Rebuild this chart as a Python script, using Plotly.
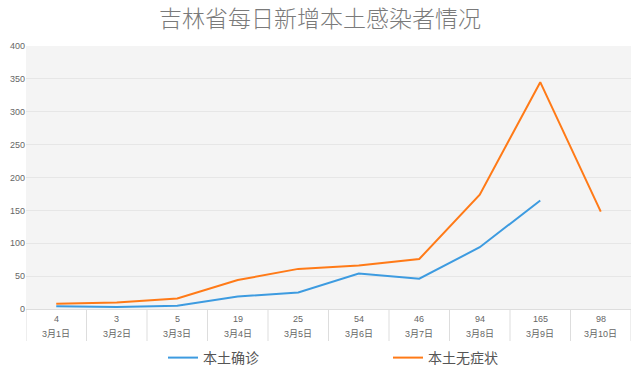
import plotly.graph_objects as go

dates = ["3月1日", "3月2日", "3月3日", "3月4日", "3月5日", "3月6日", "3月7日", "3月8日", "3月9日", "3月10日"]
table_values = [4, 3, 5, 19, 25, 54, 46, 94, 165, 98]
confirmed = [4, 3, 5, 19, 25, 54, 46, 94, 165, None]
asymptomatic = [8, 10, 16, 44, 61, 66, 76, 174, 345, 148]

FONT = "Liberation Sans, Noto Sans CJK SC, sans-serif"

fig = go.Figure()
fig.add_trace(go.Scatter(x=dates, y=confirmed, mode="lines", name="本土确诊",
                         line=dict(color="#3d9be0", width=2)))
fig.add_trace(go.Scatter(x=dates, y=asymptomatic, mode="lines", name="本土无症状",
                         line=dict(color="#ff7a17", width=2)))

plot_h = 372 - 46 - 63
plot_w = 640 - 26 - 9
shapes = []
for i in range(len(dates) + 1):
    shapes.append(dict(type="line", xref="x", yref="paper", x0=i - 0.5, x1=i - 0.5,
                       y0=0, y1=-32 / plot_h, line=dict(color="#dddddd", width=1)))
annotations = []
for i, (d, v) in enumerate(zip(dates, table_values)):
    annotations.append(dict(x=d, xref="x", yref="paper", y=-10 / plot_h, yanchor="middle",
                            text=str(v), showarrow=False,
                            font=dict(size=9, color="#666666", family=FONT)))
    annotations.append(dict(x=d, xref="x", yref="paper", y=-25 / plot_h, yanchor="middle",
                            text=d, showarrow=False,
                            font=dict(size=9, color="#666666", family=FONT)))

fig.update_layout(
    width=640, height=372,
    margin=dict(l=26, r=9, t=46, b=63, autoexpand=False),
    paper_bgcolor="white", plot_bgcolor="#f4f4f4",
    title=dict(text="吉林省每日新增本土感染者情况", x=0.5, xanchor="center",
               yref="container", y=1 - 19 / 372, yanchor="middle",
               font=dict(size=23, color="#7a7a7a", family="Noto Sans CJK SC", weight=300)),
    xaxis=dict(type="category", range=[-0.5, 9.5], showticklabels=False, showgrid=False,
               showline=True, linecolor="#dddddd", linewidth=1, ticks="", zeroline=False,
               automargin=False),
    yaxis=dict(range=[0, 400], dtick=50, gridcolor="#e6e6e6", gridwidth=1, zeroline=False,
               showline=False, ticks="", ticklen=0, automargin=False,
               tickfont=dict(size=9, color="#666666", family=FONT)),
    legend=dict(orientation="h", xanchor="left", x=(163 - 26) / plot_w,
                yref="container", y=1 - 358 / 372, yanchor="middle",
                font=dict(size=14, color="#555555", family=FONT), entrywidth=180,
                itemwidth=30),
    showlegend=True,
    shapes=shapes, annotations=annotations,
)

fig.write_html("out.html", config={"displayModeBar": False},
               post_script="document.body.style.margin='0';")
